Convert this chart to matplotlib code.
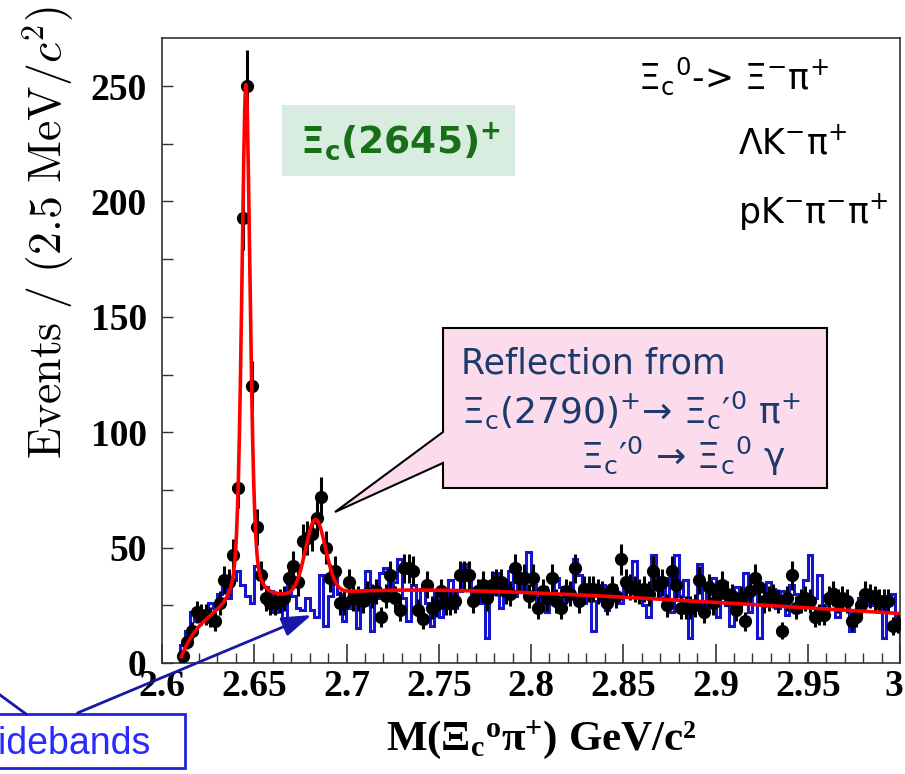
import numpy as np
import matplotlib
matplotlib.use("Agg")
import matplotlib.pyplot as plt
from matplotlib.patches import Rectangle, Polygon, FancyArrowPatch
from matplotlib.lines import Line2D
from matplotlib.ticker import MultipleLocator
from matplotlib.transforms import ScaledTranslation

plt.rcParams['mathtext.fontset'] = 'custom'
plt.rcParams['mathtext.rm'] = 'Liberation Serif:bold'
plt.rcParams['mathtext.bf'] = 'Liberation Serif:bold'
plt.rcParams['mathtext.it'] = 'Liberation Serif:bold'

# ---- binning: 2.5 MeV bins from 2.61 GeV ----
bin_width = 0.0025
mass_low = 2.61
n_bins = 156

# ---- events per bin, Xi_c0 pi+ candidates ----
events = [
    3, 9, 14, 22, 21, 21, 20, 18, 26, 36, 35, 47, 76, 193, 250, 120, 59, 38, 28, 26,
    26, 27, 28, 37, 42, 35, 53, 54, 56, 63, 72, 50, 37, 40, 26, 26, 35, 28, 28, 27,
    30, 29, 31, 20, 29, 38, 28, 23, 41, 41, 40, 23, 19, 34, 24, 25, 31, 26, 26, 27,
    38, 38, 38, 27, 31, 34, 28, 34, 35, 35, 31, 30, 41, 37, 37, 29, 37, 24, 31, 28,
    37, 27, 24, 31, 30, 41, 27, 32, 32, 32, 31, 30, 26, 32, 29, 45, 35, 33, 32, 31,
    32, 30, 40, 34, 35, 25, 40, 34, 24, 24, 24, 25, 36, 22, 33, 26, 30, 34, 30, 29,
    23, 28, 18, 31, 37, 33, 27, 28, 29, 27, 14, 28, 38, 24, 27, 28, 27, 20, 21, 21,
    28, 30, 27, 28, 27, 18, 20, 25, 30, 29, 28, 27, 27, 27, 16, 17,
]

# ---- Xi_c0 sideband distribution ----
sidebands = [
    8, 14, 22, 18, 22, 20, 26, 24, 30, 36, 28, 36, 40, 34, 29, 26, 42, 38, 33, 31,
    22, 26, 19, 35, 29, 24, 23, 28, 23, 20, 38, 16, 29, 38, 30, 18, 24, 29, 15, 27,
    40, 14, 28, 39, 41, 30, 35, 45, 28, 18, 34, 25, 32, 26, 16, 31, 20, 28, 36, 24,
    31, 43, 36, 27, 32, 26, 11, 30, 39, 24, 34, 40, 29, 37, 31, 48, 34, 24, 30, 22,
    28, 37, 33, 27, 32, 45, 38, 26, 31, 14, 27, 34, 23, 29, 30, 26, 34, 36, 44, 30,
    25, 20, 47, 33, 28, 37, 22, 47, 29, 36, 11, 27, 43, 23, 30, 37, 20, 31, 25, 16,
    33, 29, 39, 22, 30, 11, 27, 35, 32, 24, 31, 21, 34, 30, 26, 36, 47, 28, 38, 25,
    27, 32, 20, 28, 26, 14, 23, 28, 30, 25, 31, 24, 11, 27, 30, 20,
]

# ---- fit: pseudo-Voigt Xi_c(2645)+ + Gaussian reflection + threshold background ----
m_threshold = 2.6095
bg_fast_norm, bg_fast_tau = 15.0, 0.008
bg_slow_norm, bg_slow_tau = 26.0, 0.060
bg_slope = -50.0
peak1_mass, peak1_fwhm, peak1_height, peak1_eta = 2.6455, 0.0054, 226.0, 0.45
peak2_mass, peak2_sigma, peak2_height = 2.6832, 0.0054, 32.0


def fit_curve(m):
    d = np.clip(m - m_threshold, 0, None)
    bg = (bg_fast_norm * (1 - np.exp(-d / bg_fast_tau))
          + bg_slow_norm * (1 - np.exp(-d / bg_slow_tau))
          + bg_slope * d)
    hw = peak1_fwhm / 2
    lor = 1.0 / (1.0 + ((m - peak1_mass) / hw) ** 2)
    gau = np.exp(-4 * np.log(2) * ((m - peak1_mass) / peak1_fwhm) ** 2)
    sig1 = peak1_height * (peak1_eta * lor + (1 - peak1_eta) * gau)
    sig2 = peak2_height * np.exp(-0.5 * ((m - peak2_mass) / peak2_sigma) ** 2)
    return bg + sig1 + sig2


edges = mass_low + bin_width * np.arange(n_bins + 1)
centers = edges[:-1] + bin_width / 2
ev = np.array(events, dtype=float)

W, H = 905, 774
fig = plt.figure(figsize=(W / 100, H / 100), dpi=100)
fig.patch.set_facecolor('white')


def F(x, y):
    return (x / W, 1 - y / H)


ax = fig.add_axes([162 / W, (H - 663) / H, 738 / W, 625 / H])
ax.set_xlim(2.6, 3.0)
ax.set_ylim(0, 270.8)

ax.stairs(sidebands, edges, baseline=0, color='#1515d0', lw=2.2, zorder=2)
ax.errorbar(centers, ev, yerr=np.sqrt(ev), fmt='o', color='black', ms=8.5,
            elinewidth=2.2, capsize=0, zorder=3)
m_fine = np.linspace(mass_low + 0.0005, 3.0, 1500)
ax.plot(m_fine, fit_curve(m_fine), color='#ff0000', lw=2.6, zorder=4)

# axes style
for s in ax.spines.values():
    s.set_color('#333333')
    s.set_linewidth(1.2)
ax.xaxis.set_minor_locator(MultipleLocator(0.01))
ax.yaxis.set_major_locator(MultipleLocator(50))
ax.yaxis.set_minor_locator(MultipleLocator(25))
ax.tick_params(axis='x', which='major', direction='in', length=14, width=1.2,
               pad=4, top=False, color='#333333')
ax.tick_params(axis='x', which='minor', direction='in', length=7, width=1.0,
               top=False, color='#333333')
ax.tick_params(axis='y', which='both', direction='in', length=8, width=1.0,
               pad=11, right=False, color='#333333')
ax.set_xticks([2.6, 2.65, 2.7, 2.75, 2.8, 2.85, 2.9, 2.95, 3.0])
ax.set_xticklabels(['2.6', '2.65', '2.7', '2.75', '2.8', '2.85', '2.9', '2.95', '3'])
for lab in ax.get_xticklabels() + ax.get_yticklabels():
    lab.set_fontfamily('Liberation Serif')
    lab.set_fontweight('bold')
    lab.set_fontsize(27)
last = ax.get_xticklabels()[-1]
last.set_ha('right')
last.set_transform(last.get_transform() + ScaledTranslation(2 / 72, 0, fig.dpi_scale_trans))

# axis titles
fig.text(*F(541, 740), 'M(\u039e$_\\mathbf{c}$$^\\mathbf{o}$\u03c0$^\\mathbf{+}$) GeV/c\u00b2',
         fontfamily='Liberation Serif', fontweight='bold', fontsize=31,
         ha='center', va='center', math_fontfamily='custom')
fig.text(*F(48, 232), r'$\mathrm{Events\ /\ (2.5\ MeV/}c^{2}\mathrm{)}$',
         fontsize=33, rotation=90, ha='center', va='center', math_fontfamily='cm')

# decay mode list
dm = dict(fontfamily='DejaVu Sans', fontsize=25, color='black',
          va='center', ha='left', math_fontfamily='dejavusans')
fig.text(*F(638, 76), '\u039e$_\\mathregular{c}$$^\\mathregular{0}$-> \u039e$^\\mathregular{-}$\u03c0$^\\mathregular{+}$', **dm)
fig.text(*F(738, 144), '\u039bK$^\\mathregular{-}$\u03c0$^\\mathregular{+}$', **dm)
fig.text(*F(738, 212), 'pK$^\\mathregular{-}$\u03c0$^\\mathregular{-}$\u03c0$^\\mathregular{+}$', **dm)

# Xi_c(2645)+ label box
fig.add_artist(Rectangle(F(282, 176), 233 / W, 71 / H, transform=fig.transFigure,
                         facecolor='#d8ecdf', edgecolor='none', zorder=5))
fig.text(*F(400, 141), '\u039e$_\\mathbf{c}$(2645)$^\\mathbf{+}$', fontfamily='DejaVu Sans',
         fontweight='bold', fontsize=27, color='#177017', ha='center', va='center',
         math_fontfamily='dejavusans', zorder=6)

# reflection callout
callout = [F(443, 328), F(827, 328), F(827, 488), F(443, 488), F(443, 463),
           F(335, 512), F(443, 432)]
fig.add_artist(Polygon(callout, closed=True, transform=fig.transFigure,
                       facecolor='#fcdcec', edgecolor='black', lw=1.5, zorder=5))
ref = dict(fontfamily='DejaVu Sans', color='#1c3a6a', va='center', ha='left',
           math_fontfamily='dejavusans', zorder=6)
fig.text(*F(461, 364), 'Reflection from', fontsize=25, **ref)
fig.text(*F(461, 410),
         '\u039e$_\\mathregular{c}$(2790)$^\\mathregular{+}$\u2192 \u039e$_\\mathregular{c}$\u2032$^\\mathregular{0}$ \u03c0$^\\mathregular{+}$',
         fontsize=26, **ref)
fig.text(*F(580, 456),
         '\u039e$_\\mathregular{c}$\u2032$^\\mathregular{0}$ \u2192 \u039e$_\\mathregular{c}$$^\\mathregular{0}$ \u03b3',
         fontsize=26, **ref)

# sidebands label
fig.add_artist(Rectangle(F(-10, 768), 195 / W, 54 / H, transform=fig.transFigure,
                         facecolor='white', edgecolor='#2222dd', lw=2, zorder=5))
fig.text(*F(151, 744), 'Sidebands', fontfamily='Liberation Sans', fontsize=27,
         color='#2a2aff', ha='right', va='center', zorder=6)
fig.add_artist(FancyArrowPatch(F(75, 714), F(314, 614), transform=fig.transFigure,
                               arrowstyle='-|>,head_length=0.9,head_width=0.3',
                               mutation_scale=20, color='#1818a8', lw=2, zorder=6))
fig.add_artist(Line2D([F(26, 714)[0], F(-4, 692)[0]], [F(26, 714)[1], F(-4, 692)[1]],
                      transform=fig.transFigure, color='#1818a8', lw=2, zorder=6))

fig.savefig('out.png', dpi=100)
